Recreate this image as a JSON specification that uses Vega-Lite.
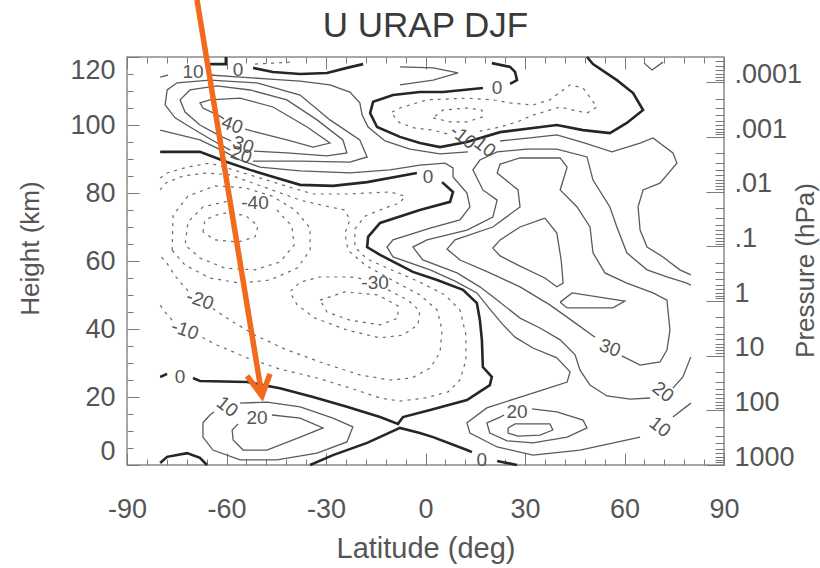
{
"$schema": "https://vega.github.io/schema/vega-lite/v6.json",
"width": 597, "height": 408,
"autosize": "none",
"padding": {"left": 127, "top": 57, "right": 96, "bottom": 103},
"background": "white",
"config": {"view": {"stroke": "#8a8a8a", "strokeWidth": 1.5}, "axis": {"grid": false, "domain": false, "tickColor": "#7a7a7a", "tickWidth": 1, "labelFont": "Liberation Sans", "titleFont": "Liberation Sans", "labelColor": "#555", "titleColor": "#555", "titleFontWeight": "normal", "labelOverlap": false}},
"datasets": {
"contours": [
{"id":"z1a","kind":"zero","lat":-80,"h":92.1},{"id":"z1a","kind":"zero","lat":-68,"h":92.1},{"id":"z1a","kind":"zero","lat":-59.9,"h":89.1},{"id":"z1a","kind":"zero","lat":-52.9,"h":86.8},{"id":"z1a","kind":"zero","lat":-44.8,"h":84.4},{"id":"z1a","kind":"zero","lat":-37.8,"h":82.4},{"id":"z1a","kind":"zero","lat":-27.9,"h":82.1},{"id":"z1a","kind":"zero","lat":-17.6,"h":83.2},{"id":"z1a","kind":"zero","lat":-2.6,"h":85.9},
{"id":"z1b","kind":"zero","lat":5.0,"h":83.2},{"id":"z1b","kind":"zero","lat":8.3,"h":80.3},{"id":"z1b","kind":"zero","lat":7.4,"h":77.4},{"id":"z1b","kind":"zero","lat":-1.7,"h":75.0},{"id":"z1b","kind":"zero","lat":-13.7,"h":71.2},{"id":"z1b","kind":"zero","lat":-17.3,"h":67.1},{"id":"z1b","kind":"zero","lat":-17.6,"h":64.1},{"id":"z1b","kind":"zero","lat":-13.7,"h":61.8},{"id":"z1b","kind":"zero","lat":-3.8,"h":56.8},{"id":"z1b","kind":"zero","lat":3.5,"h":54.4},{"id":"z1b","kind":"zero","lat":11.3,"h":51.5},{"id":"z1b","kind":"zero","lat":15.5,"h":47.6},{"id":"z1b","kind":"zero","lat":16.4,"h":42.6},{"id":"z1b","kind":"zero","lat":17.0,"h":36.8},{"id":"z1b","kind":"zero","lat":17.3,"h":28.8},{"id":"z1b","kind":"zero","lat":20.0,"h":25.9},{"id":"z1b","kind":"zero","lat":19.4,"h":23.5},{"id":"z1b","kind":"zero","lat":12.5,"h":19.1},{"id":"z1b","kind":"zero","lat":1.4,"h":16.2},{"id":"z1b","kind":"zero","lat":-6.8,"h":14.1},{"id":"z1b","kind":"zero","lat":-8.3,"h":12.1},{"id":"z1b","kind":"zero","lat":-13.7,"h":14.1},{"id":"z1b","kind":"zero","lat":-23.7,"h":17.1},{"id":"z1b","kind":"zero","lat":-33.9,"h":20.0},{"id":"z1b","kind":"zero","lat":-43.9,"h":22.6},{"id":"z1b","kind":"zero","lat":-53.8,"h":24.4},{"id":"z1b","kind":"zero","lat":-68.0,"h":24.7},{"id":"z1b","kind":"zero","lat":-70.1,"h":25.6},
{"id":"z1c","kind":"zero","lat":-77.9,"h":26.8},{"id":"z1c","kind":"zero","lat":-80,"h":25.9},
{"id":"z2a","kind":"zero","lat":-34.8,"h":0},{"id":"z2a","kind":"zero","lat":-27.9,"h":2.9},{"id":"z2a","kind":"zero","lat":-17.6,"h":6.5},{"id":"z2a","kind":"zero","lat":-7.7,"h":10.9},{"id":"z2a","kind":"zero","lat":-1.7,"h":9.4},{"id":"z2a","kind":"zero","lat":2.3,"h":8.2},{"id":"z2a","kind":"zero","lat":12.5,"h":4.4},{"id":"z2a","kind":"zero","lat":14.0,"h":3.8},
{"id":"z2b","kind":"zero","lat":21.6,"h":1.2},{"id":"z2b","kind":"zero","lat":27.6,"h":0},
{"id":"z3","kind":"zero","lat":-80,"h":0.6},{"id":"z3","kind":"zero","lat":-77.9,"h":2.4},{"id":"z3","kind":"zero","lat":-71.9,"h":3.5},{"id":"z3","kind":"zero","lat":-68,"h":2.1},{"id":"z3","kind":"zero","lat":-65.9,"h":0},
{"id":"z4","kind":"zero","lat":17.3,"h":110.9},{"id":"z4","kind":"zero","lat":5.3,"h":109.7},{"id":"z4","kind":"zero","lat":-1.7,"h":109.7},{"id":"z4","kind":"zero","lat":-9.8,"h":108.8},{"id":"z4","kind":"zero","lat":-15.8,"h":106.8},{"id":"z4","kind":"zero","lat":-16.7,"h":103.5},{"id":"z4","kind":"zero","lat":-14.6,"h":99.4},{"id":"z4","kind":"zero","lat":-7.7,"h":96.5},{"id":"z4","kind":"zero","lat":-1.7,"h":94.7},{"id":"z4","kind":"zero","lat":4.4,"h":93.5},{"id":"z4","kind":"zero","lat":12.5,"h":95.0},{"id":"z4","kind":"zero","lat":22.5,"h":97.9},{"id":"z4","kind":"zero","lat":39.6,"h":100.0},{"id":"z4","kind":"zero","lat":47.5,"h":98.5},{"id":"z4","kind":"zero","lat":55.6,"h":97.6},{"id":"z4","kind":"zero","lat":60.7,"h":100.6},{"id":"z4","kind":"zero","lat":65.6,"h":104.4},{"id":"z4","kind":"zero","lat":62.6,"h":109.4},{"id":"z4","kind":"zero","lat":57.7,"h":113.2},{"id":"z4","kind":"zero","lat":50.5,"h":117.9},{"id":"z4","kind":"zero","lat":48.7,"h":120},
{"id":"z5","kind":"zero","lat":20.0,"h":118.2},{"id":"z5","kind":"zero","lat":25.5,"h":117.1},{"id":"z5","kind":"zero","lat":27.0,"h":115.6},{"id":"z5","kind":"zero","lat":27.6,"h":113.2},{"id":"z5","kind":"zero","lat":25.5,"h":112.1},
{"id":"z6","kind":"zero","lat":-60.2,"h":120},{"id":"z6","kind":"zero","lat":-60.2,"h":117.9},{"id":"z6","kind":"zero","lat":-65.0,"h":117.9},
{"id":"z7","kind":"zero","lat":-52.0,"h":116.8},{"id":"z7","kind":"zero","lat":-46.0,"h":115.6},{"id":"z7","kind":"zero","lat":-37.8,"h":115.0},{"id":"z7","kind":"zero","lat":-29.7,"h":115.3},{"id":"z7","kind":"zero","lat":-23.7,"h":116.8},{"id":"z7","kind":"zero","lat":-18.8,"h":117.9},

{"id":"p40s","kind":"pos","lat":-54.4,"h":98.8},{"id":"p40s","kind":"pos","lat":-49.9,"h":97.6},{"id":"p40s","kind":"pos","lat":-41.8,"h":95.6},{"id":"p40s","kind":"pos","lat":-33.9,"h":93.5},{"id":"p40s","kind":"pos","lat":-28.8,"h":94.7},{"id":"p40s","kind":"pos","lat":-35.7,"h":99.4},{"id":"p40s","kind":"pos","lat":-46.0,"h":105.3},{"id":"p40s","kind":"pos","lat":-55.9,"h":107.9},{"id":"p40s","kind":"pos","lat":-65.0,"h":107.4},{"id":"p40s","kind":"pos","lat":-68.0,"h":106.5},{"id":"p40s","kind":"pos","lat":-67.1,"h":105.0},{"id":"p40s","kind":"pos","lat":-62.0,"h":102.6},{"id":"p40s","kind":"pos","lat":-60.8,"h":101.8},
{"id":"p30s","kind":"pos","lat":-51.7,"h":92.3},{"id":"p30s","kind":"pos","lat":-41.8,"h":91.8},{"id":"p30s","kind":"pos","lat":-29.7,"h":90.9},{"id":"p30s","kind":"pos","lat":-23.7,"h":91.8},{"id":"p30s","kind":"pos","lat":-24.9,"h":95.6},{"id":"p30s","kind":"pos","lat":-32.7,"h":101.5},{"id":"p30s","kind":"pos","lat":-41.8,"h":107.4},{"id":"p30s","kind":"pos","lat":-52.9,"h":110.3},{"id":"p30s","kind":"pos","lat":-62.9,"h":111.5},{"id":"p30s","kind":"pos","lat":-71.0,"h":110.3},{"id":"p30s","kind":"pos","lat":-74.0,"h":107.4},{"id":"p30s","kind":"pos","lat":-72.5,"h":103.8},{"id":"p30s","kind":"pos","lat":-68.0,"h":100.0},{"id":"p30s","kind":"pos","lat":-62.0,"h":96.8},{"id":"p30s","kind":"pos","lat":-58.6,"h":95.3},
{"id":"p20s","kind":"pos","lat":-52.0,"h":89.4},{"id":"p20s","kind":"pos","lat":-37.8,"h":89.4},{"id":"p20s","kind":"pos","lat":-22.8,"h":89.1},{"id":"p20s","kind":"pos","lat":-17.6,"h":90.6},{"id":"p20s","kind":"pos","lat":-19.8,"h":95.6},{"id":"p20s","kind":"pos","lat":-28.8,"h":101.5},{"id":"p20s","kind":"pos","lat":-37.8,"h":108.8},{"id":"p20s","kind":"pos","lat":-50.8,"h":112.4},{"id":"p20s","kind":"pos","lat":-65.0,"h":113.2},{"id":"p20s","kind":"pos","lat":-74.9,"h":112.4},{"id":"p20s","kind":"pos","lat":-77.9,"h":110.3},{"id":"p20s","kind":"pos","lat":-78.5,"h":105.9},{"id":"p20s","kind":"pos","lat":-75.5,"h":102.1},{"id":"p20s","kind":"pos","lat":-71.0,"h":99.4},{"id":"p20s","kind":"pos","lat":-64.4,"h":95.6},{"id":"p20s","kind":"pos","lat":-58.9,"h":92.6},
{"id":"p10t","kind":"pos","lat":-80,"h":114.1},{"id":"p10t","kind":"pos","lat":-77.6,"h":114.7},
{"id":"p10a","kind":"pos","lat":-65.0,"h":114.7},{"id":"p10a","kind":"pos","lat":-55.9,"h":114.1},{"id":"p10a","kind":"pos","lat":-46.9,"h":113.5},{"id":"p10a","kind":"pos","lat":-37.8,"h":112.9},{"id":"p10a","kind":"pos","lat":-28.8,"h":111.8},{"id":"p10a","kind":"pos","lat":-22.8,"h":109.7},{"id":"p10a","kind":"pos","lat":-19.8,"h":106.5},{"id":"p10a","kind":"pos","lat":-19.1,"h":102.9},{"id":"p10a","kind":"pos","lat":-17.3,"h":99.4},{"id":"p10a","kind":"pos","lat":-12.2,"h":95.3},{"id":"p10a","kind":"pos","lat":-4.7,"h":92.9},{"id":"p10a","kind":"pos","lat":4.4,"h":91.5},{"id":"p10a","kind":"pos","lat":12.8,"h":92.1},
{"id":"p10b","kind":"pos","lat":22.5,"h":95.3},{"id":"p10b","kind":"pos","lat":31.5,"h":96.2},{"id":"p10b","kind":"pos","lat":39.6,"h":97.1},{"id":"p10b","kind":"pos","lat":48.1,"h":94.7},{"id":"p10b","kind":"pos","lat":56.2,"h":92.1},{"id":"p10b","kind":"pos","lat":64.7,"h":94.7},{"id":"p10b","kind":"pos","lat":68.6,"h":96.2},{"id":"p10b","kind":"pos","lat":74.6,"h":91.8},{"id":"p10b","kind":"pos","lat":75.8,"h":88.8},{"id":"p10b","kind":"pos","lat":70.7,"h":82.9},{"id":"p10b","kind":"pos","lat":65.6,"h":80.9},{"id":"p10b","kind":"pos","lat":64.1,"h":75.9},{"id":"p10b","kind":"pos","lat":64.7,"h":69.1},{"id":"p10b","kind":"pos","lat":66.8,"h":64.1},{"id":"p10b","kind":"pos","lat":71.6,"h":61.2},{"id":"p10b","kind":"pos","lat":76.7,"h":57.4},{"id":"p10b","kind":"pos","lat":80,"h":55.9},
{"id":"p10c","kind":"pos","lat":-80,"h":98.5},{"id":"p10c","kind":"pos","lat":-68,"h":95.6},{"id":"p10c","kind":"pos","lat":-60.5,"h":92.1},{"id":"p10c","kind":"pos","lat":-55.9,"h":89.7},{"id":"p10c","kind":"pos","lat":-49.9,"h":87.6},{"id":"p10c","kind":"pos","lat":-37.8,"h":86.5},{"id":"p10c","kind":"pos","lat":-22.8,"h":85.9},{"id":"p10c","kind":"pos","lat":-10.7,"h":86.8},{"id":"p10c","kind":"pos","lat":-1.7,"h":88.2},{"id":"p10c","kind":"pos","lat":5.9,"h":88.8},{"id":"p10c","kind":"pos","lat":8.3,"h":87.4},{"id":"p10c","kind":"pos","lat":8.3,"h":84.7},{"id":"p10c","kind":"pos","lat":12.5,"h":80.0},{"id":"p10c","kind":"pos","lat":13.4,"h":75.9},{"id":"p10c","kind":"pos","lat":10.4,"h":72.1},{"id":"p10c","kind":"pos","lat":1.4,"h":69.7},{"id":"p10c","kind":"pos","lat":-9.8,"h":66.2},{"id":"p10c","kind":"pos","lat":-11.6,"h":64.1},{"id":"p10c","kind":"pos","lat":-9.8,"h":61.2},{"id":"p10c","kind":"pos","lat":1.4,"h":57.4},{"id":"p10c","kind":"pos","lat":8.9,"h":54.1},{"id":"p10c","kind":"pos","lat":15.5,"h":50.6},{"id":"p10c","kind":"pos","lat":19.1,"h":46.2},{"id":"p10c","kind":"pos","lat":23.4,"h":41.2},{"id":"p10c","kind":"pos","lat":27.0,"h":37.6},{"id":"p10c","kind":"pos","lat":32.4,"h":34.4},{"id":"p10c","kind":"pos","lat":39.6,"h":31.5},{"id":"p10c","kind":"pos","lat":43.6,"h":27.4},{"id":"p10c","kind":"pos","lat":42.7,"h":24.4},{"id":"p10c","kind":"pos","lat":35.4,"h":22.1},{"id":"p10c","kind":"pos","lat":27.6,"h":19.7},{"id":"p10c","kind":"pos","lat":18.5,"h":16.8},{"id":"p10c","kind":"pos","lat":12.5,"h":12.4},{"id":"p10c","kind":"pos","lat":13.4,"h":9.4},{"id":"p10c","kind":"pos","lat":21.6,"h":5.3},{"id":"p10c","kind":"pos","lat":32.4,"h":2.9},{"id":"p10c","kind":"pos","lat":46.6,"h":4.4},{"id":"p10c","kind":"pos","lat":64.7,"h":8.2},
{"id":"p10d","kind":"pos","lat":74.6,"h":14.1},{"id":"p10d","kind":"pos","lat":80,"h":18.2},
{"id":"p20n","kind":"pos","lat":80,"h":31.8},{"id":"p20n","kind":"pos","lat":77.6,"h":25.9},{"id":"p20n","kind":"pos","lat":74.6,"h":22.6},
{"id":"p20m","kind":"pos","lat":67.7,"h":19.7},{"id":"p20m","kind":"pos","lat":61.7,"h":19.4},{"id":"p20m","kind":"pos","lat":54.7,"h":20.3},{"id":"p20m","kind":"pos","lat":49.6,"h":23.5},{"id":"p20m","kind":"pos","lat":46.6,"h":27.9},{"id":"p20m","kind":"pos","lat":45.1,"h":32.4},{"id":"p20m","kind":"pos","lat":40.6,"h":36.8},{"id":"p20m","kind":"pos","lat":34.5,"h":40.3},{"id":"p20m","kind":"pos","lat":28.5,"h":43.2},{"id":"p20m","kind":"pos","lat":21.6,"h":48.5},{"id":"p20m","kind":"pos","lat":16.4,"h":52.4},{"id":"p20m","kind":"pos","lat":9.5,"h":56.5},{"id":"p20m","kind":"pos","lat":-0.8,"h":60.3},{"id":"p20m","kind":"pos","lat":-3.8,"h":64.1},{"id":"p20m","kind":"pos","lat":0.45,"h":66.2},{"id":"p20m","kind":"pos","lat":12.5,"h":69.1},{"id":"p20m","kind":"pos","lat":20.3,"h":72.9},{"id":"p20m","kind":"pos","lat":21.6,"h":77.9},{"id":"p20m","kind":"pos","lat":17.3,"h":80.9},{"id":"p20m","kind":"pos","lat":14.3,"h":86.8},{"id":"p20m","kind":"pos","lat":16.4,"h":89.7},{"id":"p20m","kind":"pos","lat":21.6,"h":92.1},{"id":"p20m","kind":"pos","lat":30.6,"h":92.9},{"id":"p20m","kind":"pos","lat":39.6,"h":92.9},{"id":"p20m","kind":"pos","lat":48.7,"h":90.6},{"id":"p20m","kind":"pos","lat":50.5,"h":83.8},{"id":"p20m","kind":"pos","lat":55.6,"h":75.9},{"id":"p20m","kind":"pos","lat":57.7,"h":70.0},{"id":"p20m","kind":"pos","lat":60.7,"h":62.4},{"id":"p20m","kind":"pos","lat":66.8,"h":57.4},{"id":"p20m","kind":"pos","lat":72.8,"h":55.3},{"id":"p20m","kind":"pos","lat":78.8,"h":53.5},{"id":"p20m","kind":"pos","lat":80,"h":52.9},
{"id":"p30n","kind":"pos","lat":59.2,"h":32.1},{"id":"p30n","kind":"pos","lat":64.7,"h":29.4},{"id":"p30n","kind":"pos","lat":70.7,"h":30.3},{"id":"p30n","kind":"pos","lat":72.8,"h":33.8},{"id":"p30n","kind":"pos","lat":73.7,"h":39.7},{"id":"p30n","kind":"pos","lat":72.8,"h":48.5},{"id":"p30n","kind":"pos","lat":68.6,"h":50.6},{"id":"p30n","kind":"pos","lat":60.7,"h":53.5},{"id":"p30n","kind":"pos","lat":54.1,"h":56.5},{"id":"p30n","kind":"pos","lat":50.5,"h":62.4},{"id":"p30n","kind":"pos","lat":49.6,"h":70.0},{"id":"p30n","kind":"pos","lat":45.7,"h":75.9},{"id":"p30n","kind":"pos","lat":40.6,"h":80.9},{"id":"p30n","kind":"pos","lat":42.7,"h":87.6},{"id":"p30n","kind":"pos","lat":40.6,"h":90.3},{"id":"p30n","kind":"pos","lat":28.5,"h":90.3},{"id":"p30n","kind":"pos","lat":22.5,"h":88.5},{"id":"p30n","kind":"pos","lat":21.6,"h":85.9},{"id":"p30n","kind":"pos","lat":27.9,"h":80.9},{"id":"p30n","kind":"pos","lat":28.5,"h":75.9},{"id":"p30n","kind":"pos","lat":20.3,"h":70.0},{"id":"p30n","kind":"pos","lat":8.9,"h":66.2},{"id":"p30n","kind":"pos","lat":6.5,"h":63.5},{"id":"p30n","kind":"pos","lat":10.4,"h":60.3},{"id":"p30n","kind":"pos","lat":19.4,"h":56.5},{"id":"p30n","kind":"pos","lat":28.5,"h":52.4},{"id":"p30n","kind":"pos","lat":37.5,"h":47.1},{"id":"p30n","kind":"pos","lat":45.1,"h":41.8},{"id":"p30n","kind":"pos","lat":51.1,"h":37.6},
{"id":"p40a","kind":"pos","lat":36.0,"h":72.6},{"id":"p40a","kind":"pos","lat":28.5,"h":70.0},{"id":"p40a","kind":"pos","lat":22.5,"h":66.2},{"id":"p40a","kind":"pos","lat":20.3,"h":63.8},{"id":"p40a","kind":"pos","lat":22.5,"h":61.5},{"id":"p40a","kind":"pos","lat":28.5,"h":58.5},{"id":"p40a","kind":"pos","lat":36.0,"h":55.0},{"id":"p40a","kind":"pos","lat":39.6,"h":52.4},{"id":"p40a","kind":"pos","lat":41.5,"h":53.5},{"id":"p40a","kind":"pos","lat":40.9,"h":60.3},{"id":"p40a","kind":"pos","lat":39.6,"h":68.2},{"id":"p40a","kind":"pos","lat":36.0,"h":72.6},
{"id":"p40b","kind":"pos","lat":40.6,"h":47.9},{"id":"p40b","kind":"pos","lat":44.2,"h":50.6},{"id":"p40b","kind":"pos","lat":60.1,"h":48.2},{"id":"p40b","kind":"pos","lat":56.5,"h":46.2},{"id":"p40b","kind":"pos","lat":42.7,"h":46.2},{"id":"p40b","kind":"pos","lat":40.6,"h":47.9},
{"id":"p20l","kind":"pos","lat":32.1,"h":16.5},{"id":"p20l","kind":"pos","lat":39.6,"h":15.6},{"id":"p20l","kind":"pos","lat":47.5,"h":13.2},{"id":"p20l","kind":"pos","lat":48.7,"h":10.9},{"id":"p20l","kind":"pos","lat":42.7,"h":8.2},{"id":"p20l","kind":"pos","lat":32.4,"h":6.5},{"id":"p20l","kind":"pos","lat":24.6,"h":7.1},{"id":"p20l","kind":"pos","lat":19.4,"h":9.4},{"id":"p20l","kind":"pos","lat":18.5,"h":12.4},{"id":"p20l","kind":"pos","lat":22.5,"h":14.1},{"id":"p20l","kind":"pos","lat":23.7,"h":14.7},
{"id":"p30l","kind":"pos","lat":24.9,"h":10.9},{"id":"p30l","kind":"pos","lat":27.0,"h":12.1},{"id":"p30l","kind":"pos","lat":37.5,"h":12.1},{"id":"p30l","kind":"pos","lat":38.4,"h":10.3},{"id":"p30l","kind":"pos","lat":34.5,"h":8.8},{"id":"p30l","kind":"pos","lat":27.9,"h":8.5},{"id":"p30l","kind":"pos","lat":24.9,"h":9.4},{"id":"p30l","kind":"pos","lat":24.9,"h":10.9},
{"id":"p10s","kind":"pos","lat":-55.9,"h":18.2},{"id":"p10s","kind":"pos","lat":-47.8,"h":18.5},{"id":"p10s","kind":"pos","lat":-37.8,"h":17.1},{"id":"p10s","kind":"pos","lat":-27.9,"h":13.8},{"id":"p10s","kind":"pos","lat":-21.9,"h":11.2},{"id":"p10s","kind":"pos","lat":-23.7,"h":6.8},{"id":"p10s","kind":"pos","lat":-32.7,"h":3.5},{"id":"p10s","kind":"pos","lat":-44.8,"h":1.5},{"id":"p10s","kind":"pos","lat":-55.9,"h":1.5},{"id":"p10s","kind":"pos","lat":-64.1,"h":4.4},{"id":"p10s","kind":"pos","lat":-67.1,"h":8.2},{"id":"p10s","kind":"pos","lat":-67.1,"h":12.4},{"id":"p10s","kind":"pos","lat":-65.0,"h":14.7},{"id":"p10s","kind":"pos","lat":-63.8,"h":15.6},
{"id":"p20t","kind":"pos","lat":-46.3,"h":14.7},{"id":"p20t","kind":"pos","lat":-37.8,"h":13.8},{"id":"p20t","kind":"pos","lat":-30.9,"h":10.9},{"id":"p20t","kind":"pos","lat":-37.8,"h":8.2},{"id":"p20t","kind":"pos","lat":-47.8,"h":4.4},{"id":"p20t","kind":"pos","lat":-55.0,"h":4.4},{"id":"p20t","kind":"pos","lat":-58.0,"h":7.4},{"id":"p20t","kind":"pos","lat":-58.3,"h":10.3},{"id":"p20t","kind":"pos","lat":-56.5,"h":12.1},
{"id":"ptong","kind":"pos","lat":-7.7,"h":117.1},{"id":"ptong","kind":"pos","lat":2.3,"h":116.8},{"id":"ptong","kind":"pos","lat":9.8,"h":115.3},{"id":"ptong","kind":"pos","lat":2.3,"h":113.2},{"id":"ptong","kind":"pos","lat":-7.7,"h":111.8},
{"id":"pv","kind":"pos","lat":65.9,"h":118.2},{"id":"pv","kind":"pos","lat":68.3,"h":116.2},{"id":"pv","kind":"pos","lat":71.6,"h":118.5},

{"id":"ntop","kind":"neg","lat":-51.4,"h":117.9},{"id":"ntop","kind":"neg","lat":-40.9,"h":118.5},
{"id":"n10n","kind":"neg","lat":-10.1,"h":103.8},{"id":"n10n","kind":"neg","lat":-7.7,"h":105.0},{"id":"n10n","kind":"neg","lat":0.45,"h":107.4},{"id":"n10n","kind":"neg","lat":12.5,"h":107.9},{"id":"n10n","kind":"neg","lat":20.3,"h":107.4},{"id":"n10n","kind":"neg","lat":25.5,"h":106.5},{"id":"n10n","kind":"neg","lat":32.4,"h":105.9},{"id":"n10n","kind":"neg","lat":37.5,"h":107.4},{"id":"n10n","kind":"neg","lat":41.5,"h":110.3},{"id":"n10n","kind":"neg","lat":43.6,"h":111.8},{"id":"n10n","kind":"neg","lat":47.5,"h":110.9},{"id":"n10n","kind":"neg","lat":51.7,"h":105.3},{"id":"n10n","kind":"neg","lat":48.7,"h":103.5},{"id":"n10n","kind":"neg","lat":44.5,"h":104.4},{"id":"n10n","kind":"neg","lat":40.6,"h":105.3},{"id":"n10n","kind":"neg","lat":32.4,"h":102.9},{"id":"n10n","kind":"neg","lat":27.6,"h":100.9},{"id":"n10n","kind":"neg","lat":22.5,"h":99.4},{"id":"n10n","kind":"neg","lat":16.4,"h":98.2},
{"id":"n10m","kind":"neg","lat":6.5,"h":97.4},{"id":"n10m","kind":"neg","lat":2.3,"h":98.5},{"id":"n10m","kind":"neg","lat":-3.2,"h":99.1},{"id":"n10m","kind":"neg","lat":-7.7,"h":100.6},{"id":"n10m","kind":"neg","lat":-9.2,"h":102.1},{"id":"n10m","kind":"neg","lat":-10.1,"h":103.8},
{"id":"n20n","kind":"neg","lat":2.3,"h":102.1},{"id":"n20n","kind":"neg","lat":7.4,"h":100.9},{"id":"n20n","kind":"neg","lat":12.5,"h":100.9},{"id":"n20n","kind":"neg","lat":17.3,"h":102.4},{"id":"n20n","kind":"neg","lat":17.0,"h":104.4},{"id":"n20n","kind":"neg","lat":12.5,"h":105.0},{"id":"n20n","kind":"neg","lat":5.3,"h":104.4},{"id":"n20n","kind":"neg","lat":2.3,"h":102.1},
{"id":"d10","kind":"neg","lat":-80,"h":84.4},{"id":"d10","kind":"neg","lat":-77.9,"h":85.9},{"id":"d10","kind":"neg","lat":-71.9,"h":87.6},{"id":"d10","kind":"neg","lat":-65.0,"h":88.8},{"id":"d10","kind":"neg","lat":-55.9,"h":86.2},{"id":"d10","kind":"neg","lat":-43.9,"h":82.6},{"id":"d10","kind":"neg","lat":-33.9,"h":79.7},{"id":"d10","kind":"neg","lat":-23.7,"h":79.7},{"id":"d10","kind":"neg","lat":-10.7,"h":80.3},{"id":"d10","kind":"neg","lat":-6.2,"h":79.1},{"id":"d10","kind":"neg","lat":-7.7,"h":77.1},{"id":"d10","kind":"neg","lat":-12.2,"h":75.6},{"id":"d10","kind":"neg","lat":-18.2,"h":73.2},{"id":"d10","kind":"neg","lat":-21.3,"h":69.4},{"id":"d10","kind":"neg","lat":-21.3,"h":64.1},{"id":"d10","kind":"neg","lat":-17.6,"h":60.6},{"id":"d10","kind":"neg","lat":-10.7,"h":57.6},{"id":"d10","kind":"neg","lat":-1.7,"h":53.8},{"id":"d10","kind":"neg","lat":5.9,"h":50.0},{"id":"d10","kind":"neg","lat":10.4,"h":45.6},{"id":"d10","kind":"neg","lat":12.2,"h":38.2},{"id":"d10","kind":"neg","lat":12.2,"h":30.9},{"id":"d10","kind":"neg","lat":10.4,"h":25.0},{"id":"d10","kind":"neg","lat":6.8,"h":21.5},{"id":"d10","kind":"neg","lat":-0.2,"h":19.7},{"id":"d10","kind":"neg","lat":-7.7,"h":18.8},{"id":"d10","kind":"neg","lat":-13.7,"h":19.7},{"id":"d10","kind":"neg","lat":-21.9,"h":22.4},{"id":"d10","kind":"neg","lat":-32.7,"h":25.6},{"id":"d10","kind":"neg","lat":-43.9,"h":28.2},{"id":"d10","kind":"neg","lat":-53.8,"h":31.5},{"id":"d10","kind":"neg","lat":-62.9,"h":35.3},{"id":"d10","kind":"neg","lat":-68.0,"h":37.9},
{"id":"d10b","kind":"neg","lat":-76.4,"h":42.6},{"id":"d10b","kind":"neg","lat":-79.1,"h":45.6},{"id":"d10b","kind":"neg","lat":-80,"h":47.1},
{"id":"d20","kind":"neg","lat":-80,"h":80.9},{"id":"d20","kind":"neg","lat":-78.5,"h":82.9},{"id":"d20","kind":"neg","lat":-73.1,"h":85.0},{"id":"d20","kind":"neg","lat":-65.9,"h":85.9},{"id":"d20","kind":"neg","lat":-58.9,"h":85.3},{"id":"d20","kind":"neg","lat":-52.0,"h":82.9},{"id":"d20","kind":"neg","lat":-45.4,"h":80.6},{"id":"d20","kind":"neg","lat":-37.8,"h":77.9},{"id":"d20","kind":"neg","lat":-30.3,"h":76.2},{"id":"d20","kind":"neg","lat":-24.3,"h":75.0},{"id":"d20","kind":"neg","lat":-22.8,"h":72.1},{"id":"d20","kind":"neg","lat":-24.3,"h":68.2},{"id":"d20","kind":"neg","lat":-23.4,"h":63.2},{"id":"d20","kind":"neg","lat":-18.2,"h":58.8},{"id":"d20","kind":"neg","lat":-10.1,"h":54.4},{"id":"d20","kind":"neg","lat":-1.7,"h":50.0},{"id":"d20","kind":"neg","lat":3.5,"h":45.6},{"id":"d20","kind":"neg","lat":5.0,"h":39.7},{"id":"d20","kind":"neg","lat":4.4,"h":33.2},{"id":"d20","kind":"neg","lat":1.4,"h":28.5},{"id":"d20","kind":"neg","lat":-4.1,"h":25.6},{"id":"d20","kind":"neg","lat":-10.7,"h":25.0},{"id":"d20","kind":"neg","lat":-19.8,"h":26.5},{"id":"d20","kind":"neg","lat":-31.8,"h":30.3},{"id":"d20","kind":"neg","lat":-42.4,"h":34.1},{"id":"d20","kind":"neg","lat":-51.4,"h":38.2},{"id":"d20","kind":"neg","lat":-58.9,"h":42.6},{"id":"d20","kind":"neg","lat":-64.4,"h":46.2},
{"id":"d20b","kind":"neg","lat":-71.6,"h":51.2},{"id":"d20b","kind":"neg","lat":-75.5,"h":55.6},{"id":"d20b","kind":"neg","lat":-78.2,"h":59.7},{"id":"d20b","kind":"neg","lat":-80,"h":61.5},
{"id":"d30u","kind":"neg","lat":-76.4,"h":63.2},{"id":"d30u","kind":"neg","lat":-76.1,"h":73.5},{"id":"d30u","kind":"neg","lat":-71.6,"h":79.1},{"id":"d30u","kind":"neg","lat":-63.5,"h":82.1},{"id":"d30u","kind":"neg","lat":-54.4,"h":81.5},{"id":"d30u","kind":"neg","lat":-46.3,"h":79.1},{"id":"d30u","kind":"neg","lat":-39.3,"h":75.0},{"id":"d30u","kind":"neg","lat":-34.8,"h":69.7},{"id":"d30u","kind":"neg","lat":-34.8,"h":63.2},{"id":"d30u","kind":"neg","lat":-38.7,"h":57.9},{"id":"d30u","kind":"neg","lat":-46.9,"h":54.4},{"id":"d30u","kind":"neg","lat":-55.9,"h":53.5},{"id":"d30u","kind":"neg","lat":-65.0,"h":55.0},{"id":"d30u","kind":"neg","lat":-72.5,"h":58.8},{"id":"d30u","kind":"neg","lat":-76.4,"h":63.2},
{"id":"d40u","kind":"neg","lat":-44.8,"h":75.0},{"id":"d40u","kind":"neg","lat":-40.3,"h":70.3},{"id":"d40u","kind":"neg","lat":-39.6,"h":64.7},{"id":"d40u","kind":"neg","lat":-43.9,"h":59.7},{"id":"d40u","kind":"neg","lat":-51.4,"h":57.4},{"id":"d40u","kind":"neg","lat":-60.5,"h":57.9},{"id":"d40u","kind":"neg","lat":-68.0,"h":60.9},{"id":"d40u","kind":"neg","lat":-72.5,"h":64.7},{"id":"d40u","kind":"neg","lat":-71.6,"h":71.5},{"id":"d40u","kind":"neg","lat":-67.1,"h":75.9},{"id":"d40u","kind":"neg","lat":-59.5,"h":77.6},
{"id":"d50u","kind":"neg","lat":-67.1,"h":68.5},{"id":"d50u","kind":"neg","lat":-66.5,"h":72.1},{"id":"d50u","kind":"neg","lat":-61.4,"h":74.1},{"id":"d50u","kind":"neg","lat":-54.4,"h":73.5},{"id":"d50u","kind":"neg","lat":-50.5,"h":70.3},{"id":"d50u","kind":"neg","lat":-51.4,"h":67.1},{"id":"d50u","kind":"neg","lat":-56.5,"h":65.6},{"id":"d50u","kind":"neg","lat":-63.5,"h":66.2},{"id":"d50u","kind":"neg","lat":-67.1,"h":68.5},
{"id":"d30l","kind":"neg","lat":-11.3,"h":51.5},{"id":"d30l","kind":"neg","lat":-5.3,"h":48.5},{"id":"d30l","kind":"neg","lat":-1.7,"h":45.3},{"id":"d30l","kind":"neg","lat":-2.3,"h":41.2},{"id":"d30l","kind":"neg","lat":-6.8,"h":38.2},{"id":"d30l","kind":"neg","lat":-13.7,"h":37.4},{"id":"d30l","kind":"neg","lat":-23.7,"h":39.7},{"id":"d30l","kind":"neg","lat":-33.3,"h":43.2},{"id":"d30l","kind":"neg","lat":-38.7,"h":47.1},{"id":"d30l","kind":"neg","lat":-40.9,"h":50.9},{"id":"d30l","kind":"neg","lat":-37.8,"h":53.8},{"id":"d30l","kind":"neg","lat":-31.8,"h":55.3},{"id":"d30l","kind":"neg","lat":-22.8,"h":55.3},{"id":"d30l","kind":"neg","lat":-18.5,"h":54.7},
{"id":"d40l","kind":"neg","lat":-31.8,"h":48.5},{"id":"d40l","kind":"neg","lat":-24.3,"h":50.9},{"id":"d40l","kind":"neg","lat":-14.3,"h":50.0},{"id":"d40l","kind":"neg","lat":-8.3,"h":46.8},{"id":"d40l","kind":"neg","lat":-8.3,"h":43.2},{"id":"d40l","kind":"neg","lat":-13.7,"h":41.2},{"id":"d40l","kind":"neg","lat":-22.8,"h":42.6},{"id":"d40l","kind":"neg","lat":-29.7,"h":45.0},{"id":"d40l","kind":"neg","lat":-31.8,"h":48.5}
],
"labels": [
{"text":"10","lat":-70.1,"h":115.6,"dir":"flat"},
{"text":"0","lat":-56.5,"h":116.2,"dir":"flat"},
{"text":"40","lat":-58.3,"h":100.0,"dir":"down"},
{"text":"30","lat":-55.0,"h":94.1,"dir":"down"},
{"text":"20","lat":-55.6,"h":91.2,"dir":"down"},
{"text":"-40","lat":-51.4,"h":77.1,"dir":"flat"},
{"text":"-30","lat":-15.2,"h":53.5,"dir":"flat"},
{"text":"-20","lat":-68.0,"h":48.5,"dir":"down"},
{"text":"-10","lat":-72.5,"h":39.7,"dir":"down"},
{"text":"0","lat":-74.0,"h":25.9,"dir":"flat"},
{"text":"10","lat":-59.8,"h":17.1,"dir":"up"},
{"text":"20","lat":-50.8,"h":13.8,"dir":"flat"},
{"text":"0","lat":0.75,"h":84.7,"dir":"flat"},
{"text":"0","lat":21.6,"h":110.9,"dir":"flat"},
{"text":"-10","lat":11.3,"h":96.5,"dir":"up"},
{"text":"10","lat":17.9,"h":93.5,"dir":"up"},
{"text":"30","lat":55.6,"h":34.4,"dir":"down"},
{"text":"20","lat":71.6,"h":21.5,"dir":"up"},
{"text":"10","lat":70.7,"h":11.2,"dir":"up"},
{"text":"20","lat":27.6,"h":15.6,"dir":"flat"},
{"text":"0","lat":17.0,"h":1.5,"dir":"flat"}
],
"heading": [{"text": "U URAP DJF", "lat": 0, "h": 125.9}],
"arrow": [
{"part":"shaft","lat":-68.9,"h":136.8},{"part":"shaft","lat":-49.5,"h":21.5},
{"part":"head","lat":-53.8,"h":26.2},{"part":"head","lat":-49.3,"h":20.3},{"part":"head","lat":-46.9,"h":26.8}
],
"pres": [{"p": 1}]
},
"layer": [
{
"data": {"name": "contours"},
"transform": [{"filter": "datum.kind == 'pos'"}],
"mark": {"type": "line", "stroke": "#5a5a5a", "strokeWidth": 1.3},
"encoding": {
"x": {"field": "lat", "type": "quantitative", "scale": {"domain": [-90, 90], "nice": false, "zero": false},
 "axis": {"orient": "bottom", "values": [-90,-60,-30,0,30,60,90], "tickSize": 12, "offset": -12, "labelFontSize": 27, "labelPadding": 31, "labelFlush": false, "labelExpr": "'' + datum.value", "title": "Latitude (deg)", "titleFontSize": 29, "titleY": 95, "titleBaseline": "middle"}},
"y": {"field": "h", "type": "quantitative", "scale": {"domain": [0, 120], "nice": false, "zero": false},
 "axis": {"orient": "left", "values": [0,20,40,60,80,100,120], "tickSize": 12, "offset": -12, "labelFontSize": 27, "labelPadding": 12, "labelFlush": true, "title": "Height (km)", "titleFontSize": 26, "titleX": -109, "titleY": 191, "titleBaseline": "middle", "titleAlign": "center", "titleAngle": 270}},
"detail": {"field": "id"},
"order": {"value": null}
}
},
{
"data": {"name": "contours"},
"transform": [{"filter": "datum.kind == 'neg'"}],
"mark": {"type": "line", "stroke": "#6a6a6a", "strokeWidth": 1.2, "strokeDash": [3, 5]},
"encoding": {
"x": {"field": "lat", "type": "quantitative", "scale": {"domain": [-90, 90], "nice": false, "zero": false},
 "axis": {"orient": "bottom", "values": [-84,-78,-72,-66,-54,-48,-42,-36,-24,-18,-12,-6,6,12,18,24,36,42,48,54,66,72,78,84], "tickSize": 6, "offset": -6, "labels": false, "title": null}},
"y": {"field": "h", "type": "quantitative", "scale": {"domain": [0, 120], "nice": false, "zero": false},
 "axis": {"orient": "left", "values": [5,10,15,25,30,35,45,50,55,65,70,75,85,90,95,105,110,115], "tickSize": 6, "offset": -6, "labels": false, "title": null}},
"detail": {"field": "id"},
"order": {"value": null}
}
},
{
"data": {"name": "contours"},
"transform": [{"filter": "datum.kind == 'zero'"}],
"mark": {"type": "line", "stroke": "#262626", "strokeWidth": 2.6},
"encoding": {
"x": {"field": "lat", "type": "quantitative", "scale": {"domain": [-90, 90], "nice": false, "zero": false},
 "axis": {"orient": "top", "values": [-90,-60,-30,0,30,60,90], "tickSize": 12, "offset": -12, "labels": false, "title": null}},
"y": {"field": "h", "type": "quantitative", "scale": {"domain": [0, 120], "nice": false, "zero": false}, "axis": null},
"detail": {"field": "id"},
"order": {"value": null}
}
},
{
"data": {"name": "labels"},
"mark": {"type": "text", "font": "Liberation Sans", "fontSize": 19, "fill": "#555", "align": "center", "baseline": "middle"},
"encoding": {
"x": {"field": "lat", "type": "quantitative", "scale": {"domain": [-90, 90], "nice": false, "zero": false},
 "axis": {"orient": "top", "values": [-84,-78,-72,-66,-54,-48,-42,-36,-24,-18,-12,-6,6,12,18,24,36,42,48,54,66,72,78,84], "tickSize": 6, "offset": -6, "labels": false, "title": null}},
"y": {"field": "h", "type": "quantitative", "scale": {"domain": [0, 120], "nice": false, "zero": false}, "axis": null},
"text": {"field": "text"},
"angle": {"field": "dir", "type": "nominal", "scale": {"domain": ["flat", "down", "up"], "range": [0, 38, -30]}, "legend": null}
}
},
{
"data": {"name": "heading"},
"mark": {"type": "text", "font": "Liberation Sans", "fontSize": 35, "fill": "#3a3a3a", "align": "center", "baseline": "alphabetic"},
"encoding": {
"x": {"field": "lat", "type": "quantitative", "scale": {"domain": [-90, 90], "nice": false, "zero": false}, "axis": null},
"y": {"field": "h", "type": "quantitative", "scale": {"domain": [0, 120], "nice": false, "zero": false}, "axis": null},
"text": {"field": "text"}
}
},
{
"data": {"name": "arrow"},
"mark": {"type": "line", "stroke": "#f26a1b", "strokeWidth": 5.5, "strokeJoin": "miter", "strokeCap": "butt"},
"encoding": {
"x": {"field": "lat", "type": "quantitative", "scale": {"domain": [-90, 90], "nice": false, "zero": false}, "axis": null},
"y": {"field": "h", "type": "quantitative", "scale": {"domain": [0, 120], "nice": false, "zero": false}, "axis": null},
"detail": {"field": "part"},
"order": {"value": null}
}
},
{
"data": {"name": "pres"},
"mark": {"type": "point", "opacity": 0},
"encoding": {
"y": {"field": "p", "type": "quantitative", "scale": {"type": "log", "domain": [1000, 0.0000344], "nice": false, "zero": false},
 "axis": {"orient": "right", "values": [0.0001, 0.001, 0.01, 0.1, 1, 10, 100, 1000], "tickSize": 18, "offset": -18, "labelFontSize": 27, "labelPadding": 10, "labelBaseline": "alphabetic", "labelFlush": false,
  "labelExpr": "datum.value < 0.0005 ? '.0001' : datum.value < 0.005 ? '.001' : datum.value < 0.05 ? '.01' : datum.value < 0.5 ? '.1' : format(datum.value, 'd')",
  "title": "Pressure (hPa)", "titleFontSize": 26, "titleX": 99, "titleY": 213, "titleBaseline": "middle", "titleAlign": "center", "titleAngle": 270}}
}
},
{
"data": {"name": "pres"},
"mark": {"type": "point", "opacity": 0},
"encoding": {
"y": {"field": "p", "type": "quantitative", "scale": {"type": "log", "domain": [1000, 0.0000344], "nice": false, "zero": false},
 "axis": {"orient": "right", "values": [0.00004,0.00005,0.00006,0.00007,0.00008,0.00009,0.0002,0.0003,0.0004,0.0005,0.0006,0.0007,0.0008,0.0009,0.002,0.003,0.004,0.005,0.006,0.007,0.008,0.009,0.02,0.03,0.04,0.05,0.06,0.07,0.08,0.09,0.2,0.3,0.4,0.5,0.6,0.7,0.8,0.9,2,3,4,5,6,7,8,9,20,30,40,50,60,70,80,90,200,300,400,500,600,700,800,900], "tickSize": 9, "offset": -9, "labels": false, "title": null}}
}
}
],
"resolve": {"scale": {"y": "independent"}, "axis": {"x": "independent", "y": "independent"}}
}
